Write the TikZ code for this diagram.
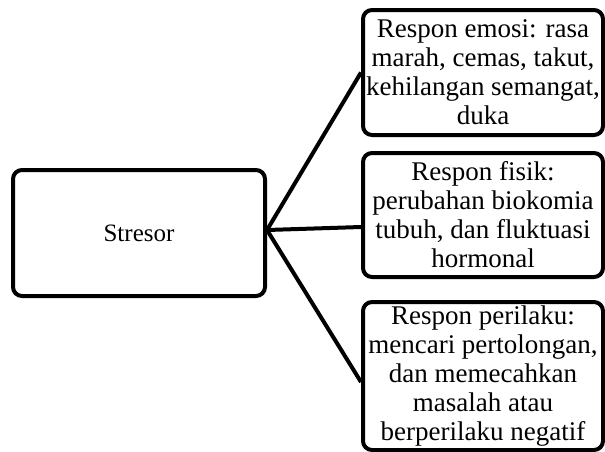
\documentclass[tikz,border=0pt]{standalone}
\usepackage{fontspec}
\setmainfont{Liberation Serif}
\begin{document}
\begin{tikzpicture}[x=1pt,y=-1pt,
  box/.style={draw=black,line width=4pt,rounded corners=9pt,fill=white,align=center,
    font=\fontsize{27}{29}\selectfont,inner sep=0pt},
  link/.style={line width=4pt}]
\useasboundingbox (0,0) rectangle (605,451);
\node[box,font=\fontsize{25}{29}\selectfont,minimum width=252pt,minimum height=126pt] (s) at (139,233) {Stresor};
\node[box,minimum width=240pt,minimum height=125pt] (b1) at (483,72.5)
  {Respon emosi: rasa\\marah, cemas, takut,\\kehilangan semangat,\\duka};
\node[box,minimum width=240pt,minimum height=124pt] (b2) at (483,215)
  {Respon fisik:\\perubahan biokomia\\tubuh, dan fluktuasi\\hormonal};
\node[box,minimum width=240pt,minimum height=148pt] (b3) at (483,376)
  {Respon perilaku:\\mencari pertolongan,\\dan memecahkan\\masalah atau\\berperilaku negatif};
\draw[link] ([yshift=3pt]s.east) -- (b1.west);
\draw[link] ([yshift=3pt]s.east) -- ([yshift=-12pt]b2.west);
\draw[link] ([yshift=3pt]s.east) -- ([yshift=-6pt]b3.west);
\end{tikzpicture}
\end{document}
